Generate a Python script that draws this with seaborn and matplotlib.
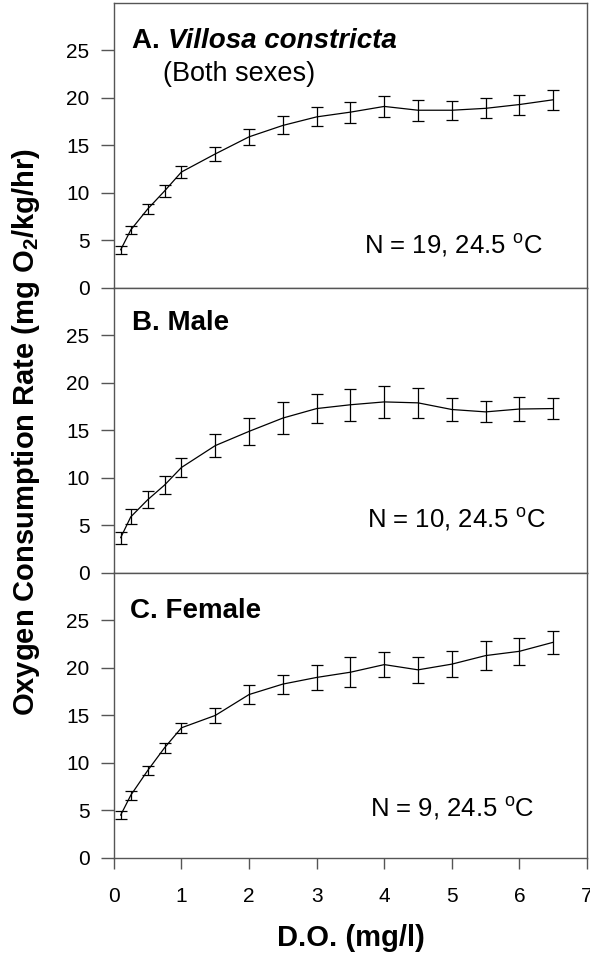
import numpy as np
import pandas as pd
import matplotlib
matplotlib.use("Agg")
import matplotlib.pyplot as plt
import seaborn as sns

# dissolved oxygen levels (mg/l)
do_levels = [0.1, 0.25, 0.5, 0.75, 1.0, 1.5, 2.0, 2.5, 3.0, 3.5, 4.0, 4.5, 5.0, 5.5, 6.0, 6.5]

# mean oxygen consumption and SE
both_mean = [4.0, 6.1, 8.3, 10.2, 12.2, 14.1, 15.9, 17.1, 18.0, 18.5, 19.1, 18.7, 18.7, 18.9, 19.3, 19.8]
both_se = [0.45, 0.45, 0.5, 0.6, 0.65, 0.75, 0.85, 0.95, 1.0, 1.1, 1.1, 1.1, 1.0, 1.05, 1.05, 1.05]

male_mean = [3.7, 5.9, 7.7, 9.25, 11.1, 13.4, 14.9, 16.3, 17.3, 17.7, 18.0, 17.9, 17.2, 16.95, 17.25, 17.3]
male_se = [0.65, 0.8, 0.9, 0.9, 1.0, 1.2, 1.4, 1.65, 1.55, 1.7, 1.7, 1.6, 1.25, 1.1, 1.25, 1.15]

female_mean = [4.5, 6.6, 9.2, 11.6, 13.7, 15.0, 17.2, 18.3, 19.0, 19.55, 20.35, 19.8, 20.4, 21.3, 21.75, 22.7]
female_se = [0.45, 0.45, 0.5, 0.55, 0.55, 0.8, 1.0, 1.0, 1.35, 1.55, 1.3, 1.4, 1.35, 1.55, 1.4, 1.2]

panel_titles = ["A. ", "B. Male", "C. Female"]
n_labels = ["N = 19, 24.5 $^o$C", "N = 10, 24.5 $^o$C", "N = 9, 24.5 $^o$C"]

sns.set_style("white")
plt.rcParams['font.family'] = ['Liberation Sans', 'DejaVu Sans']
plt.rcParams['mathtext.default'] = 'regular'
plt.rcParams['text.color'] = 'black'
plt.rcParams['xtick.color'] = 'black'
plt.rcParams['ytick.color'] = 'black'

fig, axes = plt.subplots(3, 1, figsize=(5.9, 9.57), dpi=100, sharex=True)
fig.subplots_adjust(left=0.193, right=0.995, top=0.997, bottom=0.1035, hspace=0)

series = [(both_mean, both_se), (male_mean, male_se), (female_mean, female_se)]
spine_col = '#555555'

# text anchor positions (data coords) for panel titles and N labels
title_pos = [(0.27, 25.3), (0.27, 25.6), (0.24, 25.3)]
n_pos = [(3.7, 3.6), (3.74, 4.85), (3.79, 4.4)]

for i, (ax, (mean, se)) in enumerate(zip(axes, series)):
    df = pd.DataFrame({'do': do_levels, 'rate': mean, 'se': se})
    sns.lineplot(data=df, x='do', y='rate', ax=ax, color='black', linewidth=0.9)
    ax.errorbar(df['do'], df['rate'], yerr=df['se'], fmt='none', ecolor='black',
                elinewidth=0.9, capsize=4.3, capthick=0.9)
    ax.set_xlim(0, 7)
    ax.set_ylim(0, 30)
    ax.set_yticks([0, 5, 10, 15, 20, 25])
    ax.set_xticks(range(8))
    ax.set_xlabel('')
    ax.set_ylabel('')
    for s in ax.spines.values():
        s.set_color(spine_col)
        s.set_linewidth(1.0)
    ax.tick_params(axis='y', direction='out', length=9.5, width=1, color=spine_col,
                   labelcolor='black', labelsize=15, left=True, pad=8)
    ax.tick_params(axis='x', direction='out', length=8, width=1, color=spine_col,
                   labelcolor='black', labelsize=15, bottom=(i == 2), pad=13)
    ax.text(*n_pos[i], n_labels[i], fontsize=18.5, ha='left', va='baseline')

# panel labels
tx, ty = title_pos[0]
t = axes[0].text(tx, ty, panel_titles[0], fontsize=20, fontweight='bold', ha='left', va='baseline')
axes[0].annotate("Villosa constricta", xycoords=t, xy=(1, 0), va='bottom', ha='left',
                 fontsize=20, fontweight='bold', fontstyle='italic')
axes[0].text(0.72, 21.8, "(Both sexes)", fontsize=19.5, ha='left', va='baseline')
for i in (1, 2):
    axes[i].text(*title_pos[i], panel_titles[i], fontsize=20, fontweight='bold',
                 ha='left', va='baseline')

fig.text(0.594, 0.02, "D.O. (mg/l)", fontsize=21, fontweight='bold', ha='center', va='center')
fig.text(0.044, 0.549, "Oxygen Consumption Rate (mg O$_2$/kg/hr)", rotation=90,
         fontsize=21, fontweight='bold', ha='center', va='center')

plt.savefig("out.png", dpi=100)
